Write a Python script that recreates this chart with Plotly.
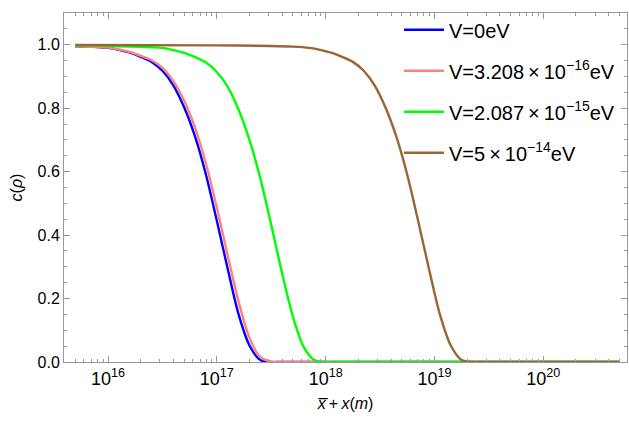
import plotly.graph_objects as go

# ---- data (x in metres, c dimensionless) ----
x_blue = [5e15, 7.943e15, 1e16, 1.259e16, 1.585e16, 1.995e16, 2.512e16, 3.162e16, 3.981e16, 5.012e16,
          6.31e16, 7.943e16, 1e17, 1.259e17, 1.585e17, 1.995e17, 2.512e17, 3.162e17, 3.981e17, 5e20]
c_blue = [0.995, 0.993, 0.990, 0.984, 0.975, 0.962, 0.946, 0.918, 0.872, 0.802,
          0.710, 0.590, 0.445, 0.293, 0.150, 0.052, 0.006, 0.0, 0.0, 0.0]

x_pink = [5e15, 7.943e15, 1e16, 1.259e16, 1.585e16, 1.995e16, 2.512e16, 3.162e16, 3.981e16, 5.012e16,
          6.31e16, 7.943e16, 1e17, 1.259e17, 1.585e17, 1.995e17, 2.512e17, 3.162e17, 3.981e17, 5e20]
c_pink = [0.995, 0.993, 0.991, 0.985, 0.977, 0.965, 0.951, 0.927, 0.885, 0.823,
          0.738, 0.625, 0.487, 0.335, 0.190, 0.076, 0.015, 0.001, 0.0, 0.0]

x_green = [5e15, 1e16, 1.585e16, 2.512e16, 3.162e16, 3.981e16, 5.012e16, 6.31e16, 7.943e16, 1e17,
           1.259e17, 1.585e17, 1.995e17, 2.512e17, 3.162e17, 3.981e17, 5.012e17, 6.31e17, 7.943e17,
           1e18, 1.259e18, 5e20]
c_green = [0.998, 0.996, 0.994, 0.992, 0.990, 0.983, 0.974, 0.961, 0.944, 0.914,
           0.867, 0.795, 0.700, 0.578, 0.432, 0.279, 0.142, 0.046, 0.005,
           0.0, 0.0, 0.0]

x_brown = [5e15, 1e17, 3.162e17, 5.012e17, 7.079e17, 8.913e17, 1.122e18, 1.413e18, 1.778e18, 2.239e18,
           2.818e18, 3.548e18, 4.467e18, 5.623e18, 7.079e18, 8.913e18, 1.122e19, 1.413e19, 1.778e19,
           2.239e19, 2.818e19, 5e20]
c_brown = [0.999, 0.998, 0.996, 0.994, 0.990, 0.984, 0.975, 0.962, 0.946, 0.918,
           0.872, 0.802, 0.710, 0.590, 0.445, 0.293, 0.150, 0.052, 0.006,
           0.0, 0.0, 0.0]

names = ["V=0eV",
         "V=3.208\u2009×\u200910<sup>−16</sup>eV",
         "V=2.087\u2009×\u200910<sup>−15</sup>eV",
         "V=5\u2009×\u200910<sup>−14</sup>eV"]
colors = ["#0000FF", "#FF8080", "#00FF00", "#996633"]

x_tickvals = [1e16, 1e17, 1e18, 1e19, 1e20]
x_ticktext = ["10<sup>16</sup>", "10<sup>17</sup>", "10<sup>18</sup>", "10<sup>19</sup>", "10<sup>20</sup>"]
y_tickvals = [0.0, 0.2, 0.4, 0.6, 0.8, 1.0]

series = [(x_blue, c_blue), (x_pink, c_pink), (x_green, c_green), (x_brown, c_brown)]
X_RANGE = [15.595, 20.77]
Y_RANGE = [0, 1.1]
FRAME = "#999999"

fig = go.Figure()
for i, ((xs, ys), nm, col) in enumerate(zip(series, names, colors)):
    fig.add_trace(go.Scatter(x=xs, y=ys, mode="lines", name=nm, legendgroup=f"g{i}",
                             line=dict(color=col, width=2.4, shape="spline", smoothing=0.8)))
# invisible trace so the mirrored (top/right) tick axes are drawn
fig.add_trace(go.Scatter(x=[x_tickvals[0]], y=[y_tickvals[0]], xaxis="x2", yaxis="y2", mode="none",
                         showlegend=False, hoverinfo="skip"))

font_main = "Liberation Sans, Arial, sans-serif"
axis_common = dict(showline=True, linecolor=FRAME, linewidth=1, mirror=True,
                   ticks="inside", tickcolor=FRAME, showgrid=False, zeroline=False)

fig.update_layout(
    xaxis=dict(type="log", range=X_RANGE, tickvals=x_tickvals, ticktext=x_ticktext,
               ticklen=6, minor=dict(ticks="inside", ticklen=3, tickcolor=FRAME, dtick="D1"),
               tickfont=dict(family=font_main, size=18, color="#000000"),
               title=dict(text="<i>x̅</i>\u2009+\u2009<i>x</i>(<i>m</i>)",
                          font=dict(family=font_main, size=16, color="#000"), standoff=10),
               **axis_common),
    yaxis=dict(range=Y_RANGE, tickvals=y_tickvals, tickformat=".1f", ticklen=6,
               minor=dict(ticks="inside", ticklen=3, tickcolor=FRAME, dtick=0.05),
               tickfont=dict(family=font_main, size=16, color="#000000"),
               title=dict(text="<i>c</i>(<i>ρ</i>)", font=dict(family=font_main, size=16, color="#000"),
                          standoff=10),
               **axis_common),
    xaxis2=dict(type="log", range=X_RANGE, overlaying="x", side="top", anchor="y2",
                tickvals=x_tickvals, showticklabels=False, ticks="inside", ticklen=6, tickcolor=FRAME,
                minor=dict(ticks="inside", ticklen=3, tickcolor=FRAME, dtick="D1"),
                showgrid=False, zeroline=False, showline=False),
    yaxis2=dict(range=Y_RANGE, overlaying="y", side="right", anchor="x2",
                tickvals=y_tickvals, showticklabels=False, ticks="inside", ticklen=6, tickcolor=FRAME,
                minor=dict(ticks="inside", ticklen=3, tickcolor=FRAME, dtick=0.05),
                showgrid=False, zeroline=False, showline=False),
    width=629, height=421,
    margin=dict(l=64, r=2, t=13, b=59),
    plot_bgcolor="white", paper_bgcolor="white",
    legend=dict(x=0.595, y=1.008, xanchor="left", yanchor="top", bgcolor="rgba(0,0,0,0)",
                font=dict(family=font_main, size=20, color="#000"), tracegroupgap=12,
                itemwidth=40),
)

fig.write_html("out.html", config={"displayModeBar": False},
               post_script="document.body.style.margin='0';document.body.style.overflow='hidden';")
